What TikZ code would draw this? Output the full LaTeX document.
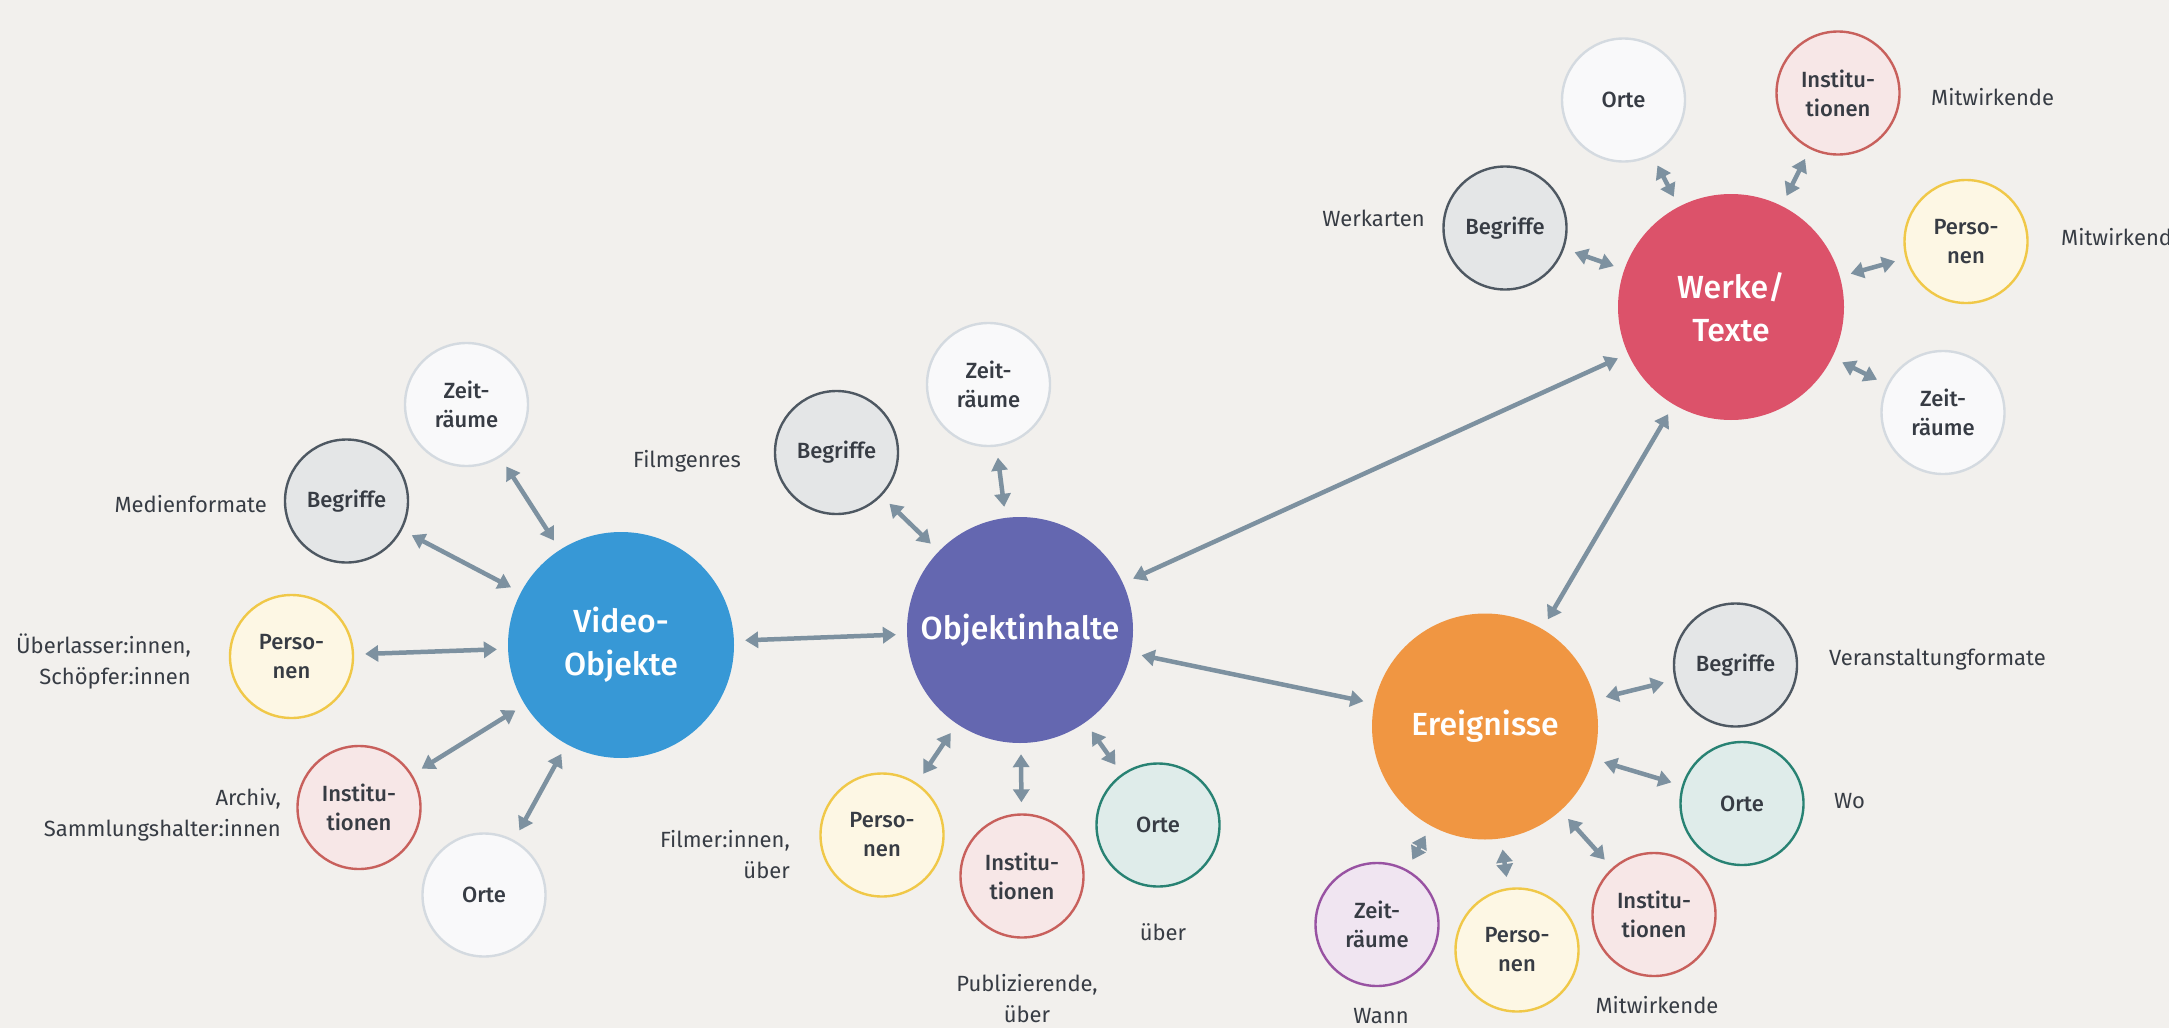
\documentclass[tikz,border=0pt]{standalone}
\usepackage{fontspec}
\setmainfont{Fira Sans}
\newfontfamily\medfont{Fira Sans Medium}
\usetikzlibrary{arrows.meta}

\definecolor{paper}{RGB}{242,240,237}
\definecolor{ink}{RGB}{55,60,68}
\definecolor{arrowgray}{RGB}{125,145,160}
\definecolor{videoblue}{RGB}{55,152,214}
\definecolor{inhaltviolet}{RGB}{100,103,176}
\definecolor{werkred}{RGB}{220,82,106}
\definecolor{ereignisorange}{RGB}{240,150,66}
\definecolor{lightring}{RGB}{212,218,224}
\definecolor{slatering}{RGB}{78,88,98}
\definecolor{yellowring}{RGB}{240,200,72}
\definecolor{redring}{RGB}{200,96,92}
\definecolor{tealring}{RGB}{40,130,115}
\definecolor{purplering}{RGB}{152,82,162}

\begin{document}
\begin{tikzpicture}[x=1pt,y=-1pt,
    hub/.style={circle, fill=#1, minimum size=226pt, inner sep=0pt, text=white, align=center, font=\medfont\fontsize{32}{43}\selectfont},
    sat/.style={circle, draw=#1, fill=#1!15!white, line width=2.4pt, minimum size=123pt, inner sep=0pt, text=ink, align=center, font=\medfont\fontsize{22}{29}\selectfont},
    note/.style={text=ink, inner sep=0pt, font=\fontsize{22}{31}\selectfont},
    link/.style={{Triangle[width=16pt,length=13pt]}-{Triangle[width=16pt,length=13pt]}, draw=arrowgray, line width=4.5pt, shorten >=11pt, shorten <=11pt}]

    \useasboundingbox[fill=paper] (0,0) rectangle (2169,1028);

    % hubs
    \node[hub=videoblue]      (video)  at (621,645)    {Video-\\Objekte};
    \node[hub=inhaltviolet]   (inhalt) at (1020,630)   {Objektinhalte};
    \node[hub=werkred]        (werke)  at (1731,307)   {Werke/\\Texte};
    \node[hub=ereignisorange] (ereig)  at (1485,726.5) {Ereignisse};

    % Video-Objekte
    \node[sat=lightring]  (vzeit) at (466.5,404.5) {Zeit-\\räume};
    \node[sat=slatering]  (vbeg)  at (346.5,501)   {Begriffe};
    \node[sat=yellowring] (vpers) at (291.5,656.5) {Perso-\\nen};
    \node[sat=redring]    (vinst) at (359,807.5)   {Institu-\\tionen};
    \node[sat=lightring]  (vorte) at (484,895)     {Orte};

    \node[note, anchor=base east] (lmedien) at (267,512) {Medienformate};
    \node[note, anchor=base east, align=right] (lueber) at (191,684) {Überlasser:innen,\\Schöpfer:innen};
    \node[note, anchor=base east, align=right] (larchiv) at (281,836) {Archiv,\\Sammlungshalter:innen};

    % Objektinhalte
    \node[sat=slatering]  (obeg)  at (836.5,452.5) {Begriffe};
    \node[sat=lightring]  (ozeit) at (988.5,384.5) {Zeit-\\räume};
    \node[sat=yellowring] (opers) at (882,835)     {Perso-\\nen};
    \node[sat=redring]    (oinst) at (1022,876)    {Institu-\\tionen};
    \node[sat=tealring]   (oorte) at (1158,825)    {Orte};

    \node[note, anchor=base west] (lgenres) at (633,467) {Filmgenres};
    \node[note, anchor=base east, align=right] (lfilmer) at (790,878) {Filmer:innen,\\über};
    \node[note, anchor=base] (lueberorte) at (1163,940) {über};
    \node[note, anchor=base, align=center] (lpubl) at (1027,1022) {Publizierende,\\über};

    % Werke/Texte
    \node[sat=lightring]  (worte) at (1623.5,100)  {Orte};
    \node[sat=redring]    (winst) at (1838,93)     {Institu-\\tionen};
    \node[sat=slatering]  (wbeg)  at (1505,228)    {Begriffe};
    \node[sat=yellowring] (wpers) at (1966,241.5)  {Perso-\\nen};
    \node[sat=lightring]  (wzeit) at (1943,412.5)  {Zeit-\\räume};

    \node[note, anchor=base east] (lwerkarten) at (1425,226) {Werkarten};
    \node[note, anchor=base west] (lmitinst) at (1931,105) {Mitwirkende};
    \node[note, anchor=base west] (lmitpers) at (2061,245) {Mitwirkende};

    % Ereignisse
    \node[sat=slatering]  (ebeg)  at (1735.5,665)  {Begriffe};
    \node[sat=tealring]   (eorte) at (1742,803.5)  {Orte};
    \node[sat=redring]    (einst) at (1654,914.5)  {Institu-\\tionen};
    \node[sat=yellowring] (epers) at (1517,950)    {Perso-\\nen};
    \node[sat=purplering] (ezeit) at (1377,924.5)  {Zeit-\\räume};

    \node[note, anchor=base west] (lformate) at (1829,665) {Veranstaltungformate};
    \node[note, anchor=base west] (lwo) at (1834,808) {Wo};
    \node[note, anchor=base] (lwann) at (1381,1023) {Wann};
    \node[note, anchor=base] (lmitwirk) at (1657,1013) {Mitwirkende};

    % connections between hubs
    \draw[link] (video) -- (inhalt);
    \draw[link] (inhalt) -- (werke);
    \draw[link] (inhalt) -- (ereig);
    \draw[link] (werke) -- (ereig);

    % connections to satellites
    \draw[link] (video) -- (vzeit);
    \draw[link] (video) -- (vbeg);
    \draw[link] (video) -- (vpers);
    \draw[link] (video) -- (vinst);
    \draw[link] (video) -- (vorte);

    \draw[link] (inhalt) -- (obeg);
    \draw[link] (inhalt) -- (ozeit);
    \draw[link] (inhalt) -- (opers);
    \draw[link] (inhalt) -- (oinst);
    \draw[link] (inhalt) -- (oorte);

    \draw[link] (werke) -- (worte);
    \draw[link] (werke) -- (winst);
    \draw[link] (werke) -- (wbeg);
    \draw[link] (werke) -- (wpers);
    \draw[link] (werke) -- (wzeit);

    \draw[link] (ereig) -- (ebeg);
    \draw[link] (ereig) -- (eorte);
    \draw[link] (ereig) -- (einst);
    \draw[link] (ereig) -- (epers);
    \draw[link] (ereig) -- (ezeit);
\end{tikzpicture}
\end{document}
